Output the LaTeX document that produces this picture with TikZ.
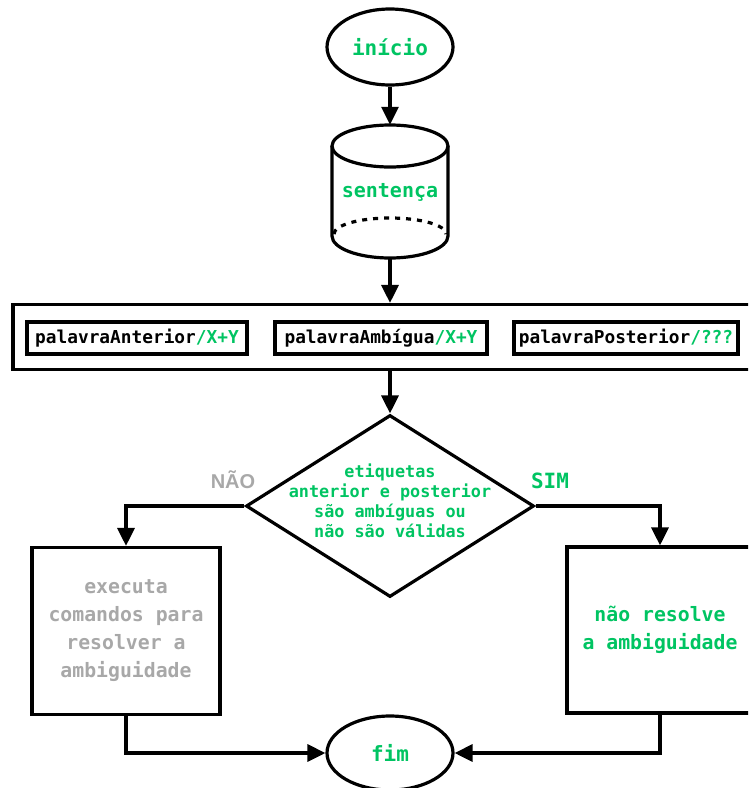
\documentclass[tikz,border=0pt]{standalone}
\usepackage{fontspec}
\setmonofont{DejaVu Sans Mono}
\newfontfamily\capsfont{Liberation Sans}
\usetikzlibrary{arrows.meta,shapes.geometric}

\definecolor{okgreen}{RGB}{0,196,98}
\definecolor{offgray}{RGB}{168,168,168}

\tikzset{
  terminal/.style={draw,ellipse,line width=3.2pt,minimum width=126pt,minimum height=74pt,text=okgreen,font=\ttfamily\bfseries\fontsize{21}{24}\selectfont},
  wordbox/.style={draw,line width=3.2pt,minimum height=32pt,inner sep=3pt,font=\ttfamily\bfseries\fontsize{17.8}{20}\selectfont},
  decision/.style={draw,diamond,line width=3.2pt,minimum width=288pt,minimum height=182pt},
  condtext/.style={align=center,text=okgreen,yshift=5pt,font=\ttfamily\bfseries\fontsize{16.8}{20}\selectfont},
  actionbox/.style={draw,line width=3.2pt,minimum width=188pt,minimum height=166pt,align=center,font=\ttfamily\bfseries\fontsize{19.8}{28}\selectfont},
  link/.style={->,line width=3.2pt}
}

\begin{document}
\begin{tikzpicture}[x=1pt,y=-1pt,>={Triangle[length=18pt,width=17pt]}]
\useasboundingbox (0,0) rectangle (748,788);
\clip (0,0) rectangle (748,788);
% start and the sentence
\node[terminal,minimum height=76pt] (inicio) at (390,47) {início};
\node[minimum width=116pt,minimum height=134pt,text=okgreen,font=\ttfamily\bfseries\fontsize{20}{24}\selectfont] (sentenca) at (390,192) {sentença};
\draw[line width=3.2pt] (390,146) ellipse [x radius=58pt,y radius=21pt];
\draw[line width=3.2pt] (332,146) -- (332,236) arc[start angle=180,end angle=360,x radius=58pt,y radius=22pt] -- (448,146);
\draw[line width=3.2pt,dash pattern=on 5pt off 6pt] (334,234) arc[start angle=180,end angle=0,x radius=56pt,y radius=16pt];
% the three words
\node[draw,line width=3.2pt,minimum width=750pt,minimum height=65pt] (tokens) at (388,337) {};
\node[wordbox,minimum width=220pt] (w1) at (137,338) {palavraAnterior\textcolor{okgreen}{/X+Y}};
\node[wordbox,minimum width=212pt] (w2) at (381,338) {palavraAmbígua\textcolor{okgreen}{/X+Y}};
\node[wordbox,minimum width=224pt] (w3) at (626,338) {palavraPosterior\textcolor{okgreen}{/???}};
% decision
\node[decision,label={[condtext]center:{etiquetas\\anterior e posterior\\são ambíguas ou\\não são válidas}}] (cond) at (390,506) {};
\node[text=offgray,font=\capsfont\bfseries\fontsize{20}{22}\selectfont] (nao) at (233,480) {NÃO};
\node[text=okgreen,font=\ttfamily\bfseries\fontsize{21}{24}\selectfont] (sim) at (550,481) {SIM};
\node[actionbox,text=offgray,minimum height=167pt] (exec) at (126,631) {executa\\comandos para\\resolver a\\ambiguidade};
\node[actionbox,text=okgreen,minimum width=186pt] (noexec) at (660,630) {não resolve\\a ambiguidade};
\node[terminal] (fim) at (390,753) {fim};
% connectors
\draw[link] (inicio) -- (sentenca);
\draw[link] (sentenca.south) -- (sentenca.south |- tokens.north);
\draw[link] (tokens.south -| cond.north) -- (cond.north);
\draw[link] (cond.west) -| (exec.north);
\draw[link] (cond.east) -| (noexec.north);
\draw[link] (exec.south) |- (fim.west);
\draw[link] (noexec.south) |- (fim.east);
\end{tikzpicture}
\end{document}
